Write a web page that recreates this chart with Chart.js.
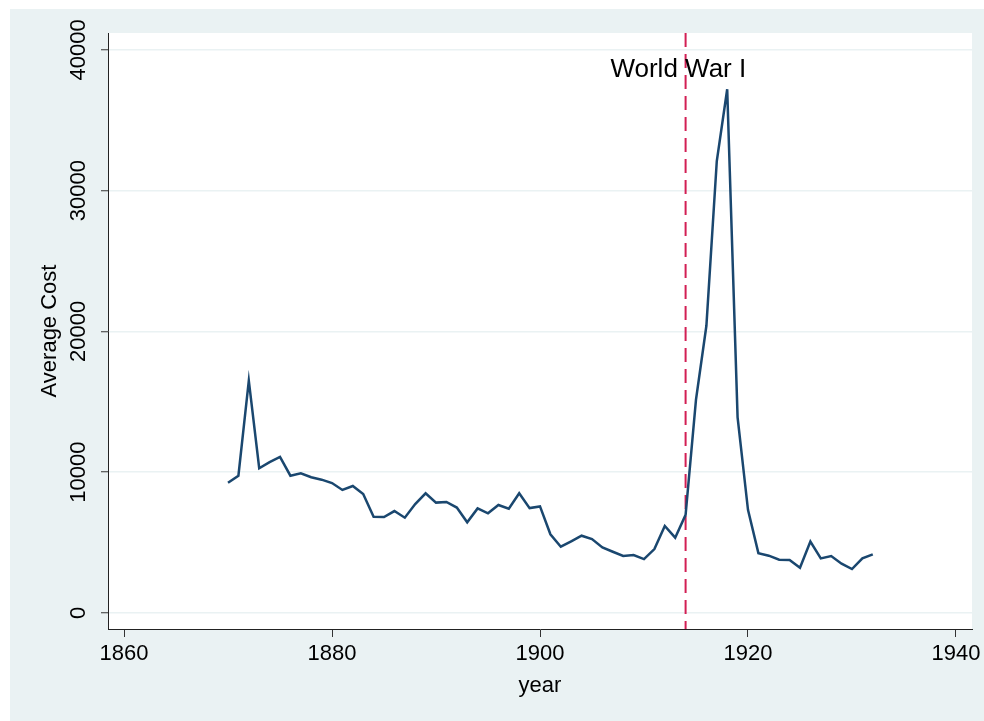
<!DOCTYPE html>
<html lang="en">
<head>
    <meta charset="UTF-8">
    <title>Average Cost by Year</title>
    <script src="https://cdn.jsdelivr.net/npm/chart.js"></script>
    <style>
        body {
            margin: 0;
            background: #ffffff;
        }
        /* light bluish-gray frame around the plot */
        .frame {
            position: absolute;
            left: 10px;
            top: 9px;
            width: 974px;
            height: 712px;
            background: #eaf2f3;
        }
    </style>
</head>
<body>
<div class="frame">
    <canvas id="costChart"></canvas>
</div>

<script>
    // years and average cost
    const years = [
        1870, 1871, 1872, 1873, 1874, 1875, 1876, 1877, 1878, 1879,
        1880, 1881, 1882, 1883, 1884, 1885, 1886, 1887, 1888, 1889,
        1890, 1891, 1892, 1893, 1894, 1895, 1896, 1897, 1898, 1899,
        1900, 1901, 1902, 1903, 1904, 1905, 1906, 1907, 1908, 1909,
        1910, 1911, 1912, 1913, 1914, 1915, 1916, 1917, 1918, 1919,
        1920, 1921, 1922, 1923, 1924, 1925, 1926, 1927, 1928, 1929,
        1930, 1931, 1932
    ];
    const avgCost = [
        9250, 9750, 16500, 10280, 10720, 11080, 9750, 9920, 9640, 9470,
        9230, 8740, 9020, 8450, 6840, 6820, 7240, 6770, 7740, 8500,
        7840, 7890, 7490, 6440, 7430, 7080, 7670, 7410, 8500, 7450,
        7570, 5590, 4710, 5090, 5490, 5250, 4660, 4350, 4050, 4120,
        3830, 4540, 6180, 5350, 6970, 15150, 20400, 32100, 37200, 13900,
        7330, 4250, 4070, 3790, 3770, 3220, 5070, 3880, 4050, 3500,
        3120, 3880, 4170
    ];

    // axis ticks
    const xTicks = [1860, 1880, 1900, 1920, 1940];
    const yTicks = [0, 10000, 20000, 30000, 40000];

    // marker for the war
    const warYear = 1914;
    const warLabel = 'World War I';
    const warLabelX = 1913.3;
    const warLabelY = 38050;

    const FONT = "'Liberation Sans', Arial, Helvetica, sans-serif";

    // white plot region, y tick labels, y title and the war line
    const stataPlugin = {
        id: 'stata',
        beforeDraw(chart) {
            const ctx = chart.ctx;
            const a = chart.chartArea;
            ctx.save();
            ctx.fillStyle = '#ffffff';
            ctx.fillRect(a.left, a.top, a.right - a.left, a.bottom - a.top);
            ctx.restore();
        },
        beforeDatasetsDraw(chart) {
            const ctx = chart.ctx;
            const a = chart.chartArea;
            const x = chart.scales.x.getPixelForValue(warYear);
            ctx.save();
            ctx.strokeStyle = '#d21f54';
            ctx.lineWidth = 2;
            ctx.setLineDash([14, 7]);
            ctx.beginPath();
            ctx.moveTo(x, a.top);
            ctx.lineTo(x, a.bottom);
            ctx.stroke();
            ctx.restore();
        },
        afterDraw(chart) {
            const ctx = chart.ctx;
            const a = chart.chartArea;
            const ys = chart.scales.y;
            const xs = chart.scales.x;
            ctx.save();
            ctx.fillStyle = '#000000';
            ctx.font = '22px ' + FONT;
            ctx.textAlign = 'center';
            ctx.textBaseline = 'middle';
            // rotated y tick labels
            yTicks.forEach(v => {
                ctx.save();
                ctx.translate(68, ys.getPixelForValue(v));
                ctx.rotate(-Math.PI / 2);
                ctx.fillText(String(v), 0, 1);
                ctx.restore();
            });
            // y axis title
            ctx.save();
            ctx.translate(40, (a.top + a.bottom) / 2);
            ctx.rotate(-Math.PI / 2);
            ctx.fillText('Average Cost', 0, 0);
            ctx.restore();
            // war label
            ctx.font = '26px ' + FONT;
            ctx.textBaseline = 'alphabetic';
            ctx.fillText(warLabel, xs.getPixelForValue(warLabelX), ys.getPixelForValue(warLabelY));
            ctx.restore();
        }
    };

    const ctx = document.getElementById('costChart').getContext('2d');
    const chart = new Chart(ctx, {
        type: 'line',
        data: {
            datasets: [{
                label: 'Average Cost',
                data: years.map((y, i) => ({ x: y, y: avgCost[i] })),
                borderColor: '#1a476f',
                borderWidth: 2.5,
                pointRadius: 0,
                tension: 0,
                fill: false
            }]
        },
        options: {
            responsive: true,
            maintainAspectRatio: false,
            animation: false,
            layout: {
                padding: { top: 24, right: 12, left: 0, bottom: 0 }
            },
            plugins: {
                legend: { display: false },
                tooltip: { enabled: false }
            },
            scales: {
                x: {
                    type: 'linear',
                    min: 1858.46,
                    max: 1941.54,
                    afterBuildTicks: scale => { scale.ticks = xTicks.map(v => ({ value: v })); },
                    afterFit: scale => {
                        scale.height = 92;
                        scale.paddingLeft = 0;
                        scale.paddingRight = 0;
                    },
                    border: { display: true, color: '#222222', width: 1 },
                    grid: {
                        drawOnChartArea: false,
                        drawTicks: true,
                        tickLength: 8,
                        tickColor: '#333333',
                        tickWidth: 1
                    },
                    ticks: {
                        color: '#000000',
                        padding: 4,
                        maxRotation: 0,
                        font: { family: FONT, size: 22 },
                        callback: v => String(v)
                    },
                    title: {
                        display: true,
                        text: 'year',
                        color: '#000000',
                        padding: { top: 2, bottom: 22 },
                        font: { family: FONT, size: 22 }
                    }
                },
                y: {
                    min: -1136,
                    max: 41193,
                    afterBuildTicks: scale => { scale.ticks = yTicks.map(v => ({ value: v })); },
                    afterFit: scale => { scale.width = 98; },
                    border: { display: true, color: '#222222', width: 1 },
                    grid: {
                        color: '#eaf2f3',
                        lineWidth: 1.5,
                        drawTicks: true,
                        tickLength: 7,
                        tickColor: '#333333',
                        tickWidth: 1
                    },
                    ticks: { display: false }
                }
            }
        },
        plugins: [stataPlugin]
    });
</script>
</body>
</html>
